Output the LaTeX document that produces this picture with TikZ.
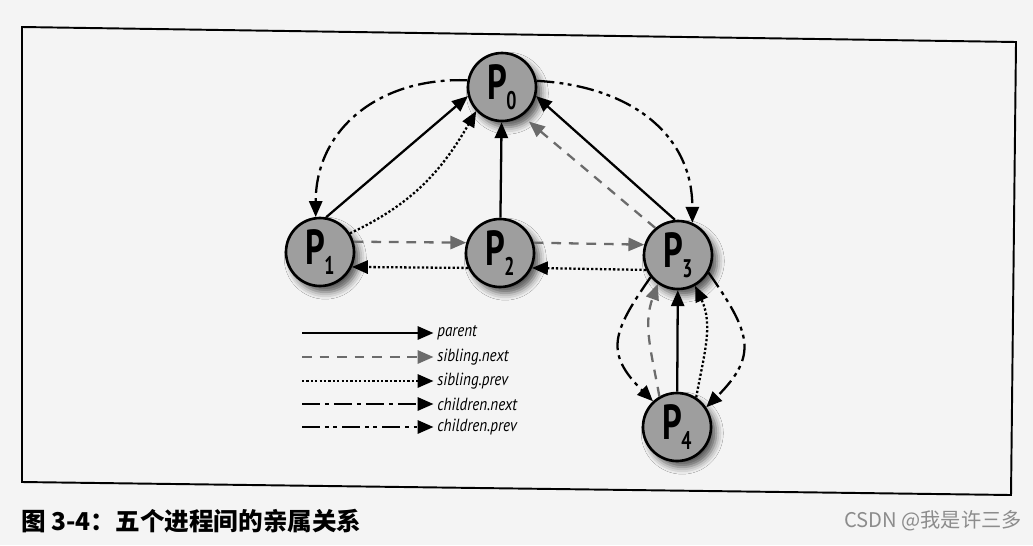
\documentclass[tikz,border=0pt]{standalone}
\usepackage{fontspec}
\usepackage{tikz}
\usetikzlibrary{
    arrows.meta,
    shadows.blur
}
\newfontfamily\nodefont{PT Sans}[FakeStretch=0.7]
\newfontfamily\legfont{PT Sans}[FakeStretch=0.86]
\newfontfamily\cjk{Noto Sans CJK SC}
\definecolor{paper}{gray}{0.955}
\definecolor{procgray}{gray}{0.62}
\definecolor{nextgray}{gray}{0.42}
\newcommand{\pname}[1]{{\nodefont\bfseries\fontsize{28}{28}\selectfont
    P\kern-0.5pt\raisebox{-6pt}{\fontsize{14.5}{14.5}\selectfont #1}}}
\tikzset{
    >={Triangle[length=9pt,width=7.5pt]},
    proc/.style={
        circle, draw, line width=1.5pt,
        fill=procgray,
        minimum size=1.36cm,
        inner sep=0pt,
        blur shadow={shadow xshift=3pt, shadow yshift=-3.5pt,
                     shadow blur radius=4pt, shadow opacity=65}
    },
    link/.style={->, line width=1.3pt},
    parentarr/.style={link},
    nextarr/.style={link, nextgray, dash pattern=on 5.5pt off 4.5pt},
    prevarr/.style={link, dash pattern=on 1.3pt off 1.2pt},
    childnext/.style={link, dash pattern=on 10pt off 3pt on 2.2pt off 3pt},
    childprev/.style={link, dash pattern=on 10pt off 3pt on 2.2pt off 2.5pt on 2.2pt off 3pt},
    legtext/.style={anchor=west, inner sep=0pt,
        font=\legfont\itshape\fontsize{10}{12}\selectfont}
}

\begin{document}
\begin{tikzpicture}[
    x=0.02cm,
    y=0.02cm
]

    % Fondo y marco
    \useasboundingbox (0,0) rectangle (1033,-545);
    \fill[paper] (0,0) rectangle (1033,-545);
    \draw[line width=1.1pt] (22,-27) -- (1016,-42) -- (1011,-495) -- (22,-482) -- cycle;

    % Procesos
    \node[proc] (P0) at (502,-87)  {\pname{0}};
    \node[proc] (P1) at (320,-252) {\pname{1}};
    \node[proc] (P2) at (500,-253) {\pname{2}};
    \node[proc] (P3) at (678,-255) {\pname{3}};
    \node[proc] (P4) at (677,-427) {\pname{4}};

    % parent
    \path
        (P1.80) edge[parentarr] (P0.-165)
        (P2) edge[parentarr] (P0)
        (P3.95) edge[parentarr] (P0.-15)
        (P4) edge[parentarr] (P3);

    % sibling.next
    \path
        (P1.17) edge[nextarr] (P2.163)
        (P2.17) edge[nextarr] (P3.163)
        (P3.130) edge[nextarr, shorten >=5pt] (P0.-55)
        (P4.120) edge[nextarr, out=100, in=-110] (P3.-125);

    % sibling.prev
    \path
        (P2.-155) edge[prevarr] (P1.-25)
        (P3.-155) edge[prevarr] (P2.-25)
        (P1.32) edge[prevarr, out=25, in=-120] (P0.-137)
        (P4.57) edge[prevarr, out=80, in=-65] (P3.-61);

    % children.next / children.prev
    \path
        (P0.169) edge[childnext, out=178, in=90, looseness=1.1] (P1.97)
        (P0.10) edge[childprev, out=-3, in=90, looseness=1.1] (P3.66)
        (P3.-141) edge[childnext, out=-125, in=135, looseness=1.4] (P4.133)
        (P3.-30) edge[childprev, out=-55, in=45, looseness=1.4] (P4.34);

    % Leyenda
    \coordinate (la1) at (302,-333);
    \coordinate (la2) at (302,-357);
    \coordinate (la3) at (302,-381);
    \coordinate (la4) at (302,-404);
    \coordinate (la5) at (302,-427);
    \node[legtext] (lt1) at (437,-333) {parent};
    \node[legtext] (lt2) at (437,-357) {sibling.next};
    \node[legtext] (lt3) at (437,-381) {sibling.prev};
    \node[legtext] (lt4) at (437,-404) {children.next};
    \node[legtext] (lt5) at (437,-427) {children.prev};
    \draw[parentarr] (la1) -- ([xshift=-2pt]lt1.west);
    \draw[nextarr]   (la2) -- ([xshift=-2pt]lt2.west);
    \draw[prevarr]   (la3) -- ([xshift=-2pt]lt3.west);
    \draw[childnext] (la4) -- ([xshift=-2pt]lt4.west);
    \draw[childprev] (la5) -- ([xshift=-2pt]lt5.west);

    % Pie
    \node[anchor=west, inner sep=0pt,
          font=\cjk\bfseries\fontsize{14}{16}\selectfont] (caption)
        at (21,-521) {图 3-4：五个进程间的亲属关系};
    \node[anchor=east, inner sep=0pt, text=black!45,
          font=\cjk\fontsize{11.5}{13}\selectfont] (mark)
        at (1022,-521) {CSDN @我是许三多};

\end{tikzpicture}
\end{document}
